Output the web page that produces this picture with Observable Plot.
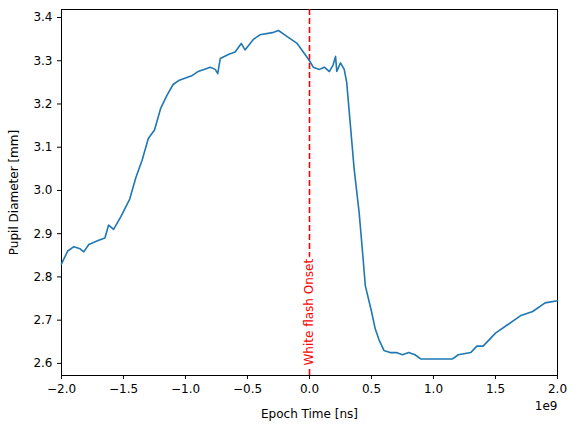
<!DOCTYPE html>
<html><head>
<meta charset="utf-8">
<script src="https://cdn.jsdelivr.net/npm/d3@7"></script>
<script src="https://cdn.jsdelivr.net/npm/@observablehq/plot@0.6"></script>
<style>body{margin:0;background:#fff;font-family:"DejaVu Sans",sans-serif}</style>
</head><body><div id="chart"></div>
<script>
const times = [-2.0,-1.95,-1.9,-1.85,-1.82,-1.78,-1.7,-1.65,-1.62,-1.58,-1.52,-1.45,-1.4,-1.35,-1.3,-1.25,-1.2,-1.15,-1.1,-1.05,-1.0,-0.95,-0.9,-0.85,-0.8,-0.76,-0.74,-0.72,-0.65,-0.6,-0.55,-0.52,-0.45,-0.4,-0.3,-0.25,-0.2,-0.15,-0.1,-0.05,0,0.03,0.08,0.12,0.16,0.19,0.21,0.22,0.25,0.28,0.3,0.33,0.36,0.4,0.43,0.45,0.5,0.53,0.56,0.6,0.65,0.7,0.75,0.8,0.85,0.9,1.0,1.1,1.15,1.2,1.3,1.35,1.4,1.5,1.6,1.7,1.8,1.9,2.0];
const diameter = [2.83,2.86,2.87,2.865,2.858,2.875,2.885,2.89,2.92,2.91,2.94,2.98,3.03,3.07,3.12,3.14,3.19,3.22,3.245,3.255,3.26,3.265,3.275,3.28,3.285,3.28,3.27,3.305,3.315,3.32,3.34,3.325,3.35,3.36,3.365,3.37,3.36,3.35,3.34,3.32,3.30,3.285,3.28,3.285,3.275,3.29,3.31,3.275,3.295,3.28,3.25,3.15,3.05,2.95,2.85,2.78,2.72,2.68,2.655,2.63,2.625,2.625,2.62,2.625,2.62,2.61,2.61,2.61,2.61,2.62,2.625,2.64,2.64,2.67,2.69,2.71,2.72,2.74,2.745];
const xTicks = [-2.0,-1.5,-1.0,-0.5,0.0,0.5,1.0,1.5,2.0];
const yTicks = [2.6,2.7,2.8,2.9,3.0,3.1,3.2,3.3,3.4];
const onset = 0;

const data = times.map((t, i) => ({t, d: diameter[i]}));
const fmt = d3.format(".1f");

const chart = Plot.plot({
  width: 578, height: 432,
  marginLeft: 61, marginRight: 21, marginTop: 9, marginBottom: 57,
  style: {fontFamily: "DejaVu Sans", fontSize: "10px", color: "black"},
  x: {domain: [-2, 2]},
  y: {domain: [2.572, 3.4185]},
  marks: [
    Plot.frame({stroke: "black"}),
    Plot.ruleX([onset], {stroke: "red", strokeWidth: 1.6, strokeDasharray: "6,3"}),
    Plot.text(["White flash Onset"], {x: onset, y: 2.595, rotate: -90, textAnchor: "start", fill: "red", fontSize: 12, stroke: "white", strokeWidth: 6, paintOrder: "stroke"}),
    Plot.line(data, {x: "t", y: "d", stroke: "#1f77b4", strokeWidth: 1.6}),
    Plot.text(["1e9"], {frameAnchor: "bottom-right", dy: 34, textAnchor: "end", fontSize: 12}),
    Plot.axisX({ticks: xTicks, tickFormat: fmt, fontSize: 12, tickSize: 4, label: "Epoch Time [ns]", labelAnchor: "center", labelArrow: "none", labelOffset: 42}),
    Plot.axisY({ticks: yTicks, tickFormat: fmt, fontSize: 12, tickSize: 4, label: "Pupil Diameter [mm]", labelAnchor: "center", labelArrow: "none", labelOffset: 52})
  ]
});
d3.select("#chart").append(() => chart);
</script></body></html>
